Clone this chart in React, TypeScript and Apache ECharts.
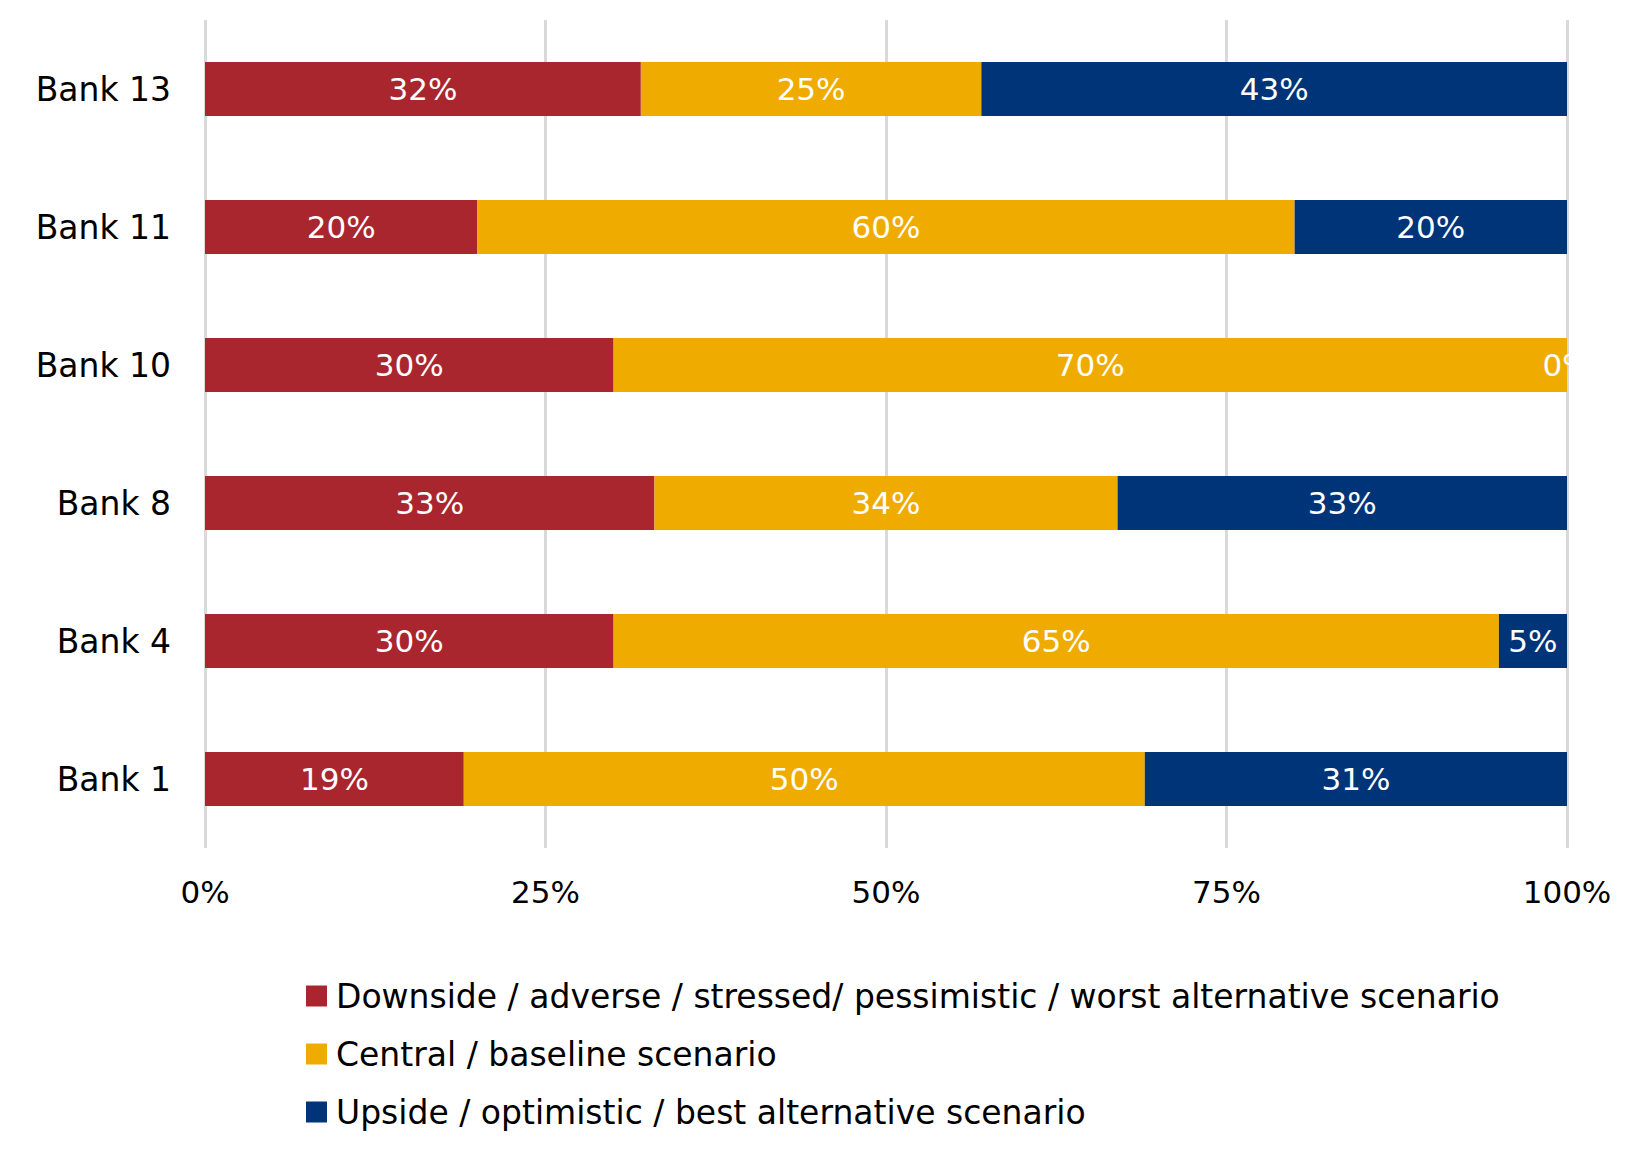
import React, { useEffect, useRef } from "react";
import * as echarts from "echarts";

const categories = ["Bank 1", "Bank 4", "Bank 8", "Bank 10", "Bank 11", "Bank 13"];
const downside = [19, 30, 33, 30, 20, 32];
const central = [50, 65, 34, 70, 60, 25];
const upside = [31, 5, 33, 0, 20, 43];
const seriesNames = [
  "Downside / adverse / stressed/ pessimistic / worst alternative scenario",
  "Central / baseline scenario",
  "Upside / optimistic / best alternative scenario",
];
const colors = ["#A9262F", "#F0AB00", "#003479"];
const xTicks = [0, 25, 50, 75, 100];

const FONT = "'DejaVu Sans', Roboto, sans-serif";

export default function App() {
  const ref = useRef<HTMLDivElement>(null);
  useEffect(() => {
    document.body.style.margin = "0";
    if (!ref.current) return;
    const chart = echarts.init(ref.current, null, { renderer: "svg" });
    const values = [downside, central, upside];
    chart.setOption({
      animation: false,
      textStyle: { fontFamily: FONT },
      grid: { left: 205, right: 73, top: 20, bottom: 1153 - 848, containLabel: false },
      xAxis: {
        type: "value",
        min: 0,
        max: 100,
        interval: 25,
        axisLine: { show: false },
        axisTick: { show: false },
        splitLine: { show: true, lineStyle: { color: "#D9D9D9", width: 3 } },
        axisLabel: {
          formatter: (v: number) => (xTicks.includes(v) ? `${v}%` : ""),
          fontSize: 31,
          color: "#000",
          margin: 28,
          fontFamily: FONT,
        },
      },
      yAxis: {
        type: "category",
        data: categories,
        axisLine: { show: false },
        axisTick: { show: false },
        axisLabel: { fontSize: 33, color: "#000", margin: 34, fontFamily: FONT },
      },
      legend: {
        orient: "vertical",
        left: 301,
        top: 974,
        icon: "rect",
        itemWidth: 21,
        itemHeight: 21,
        itemGap: 24,
        textStyle: { fontSize: 33, color: "#000", lineHeight: 34, fontFamily: FONT, padding: [0, 0, 0, 4] },
        data: seriesNames,
      },
      series: seriesNames.map((name, i) => ({
        name,
        type: "bar",
        stack: "total",
        barWidth: 54,
        itemStyle: { color: colors[i] },
        label: {
          show: true,
          position: "inside",
          color: "#fff",
          fontSize: 31,
          fontFamily: FONT,
          formatter: (p: any) => `${p.value}%`,
        },
        data: values[i],
      })),
    });
    return () => chart.dispose();
  }, []);
  return <div ref={ref} style={{ width: 1640, height: 1153 }} />;
}
